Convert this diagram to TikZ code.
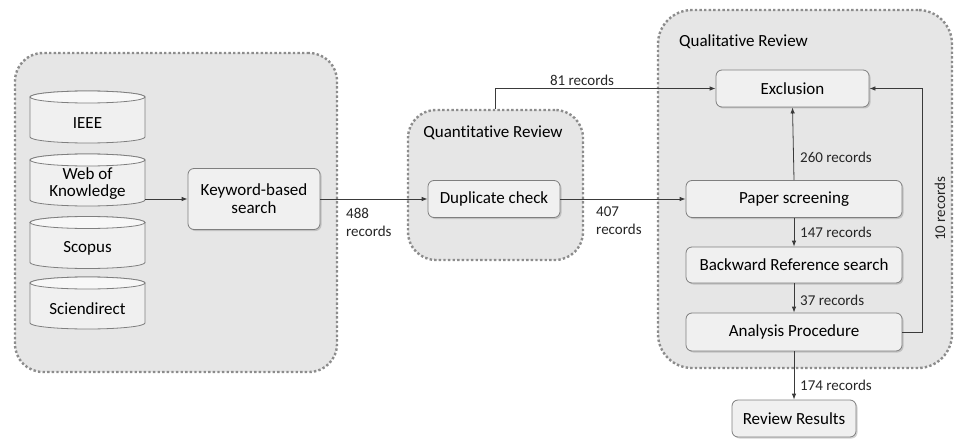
\documentclass[tikz,border=0pt]{standalone}
\usepackage{fontspec}
\setmainfont{Carlito}[Ligatures=NoCommon]
\usetikzlibrary{arrows.meta,shadows}
\definecolor{grpfill}{HTML}{E6E6E6}
\definecolor{grpline}{HTML}{8C8C8C}
\definecolor{boxfill}{HTML}{F0F0F0}
\definecolor{boxline}{HTML}{7F7F7F}
\definecolor{cyltop}{HTML}{F7F7F7}
\definecolor{arrcol}{HTML}{3A3A3A}
\newcommand{\dbcyl}[1]{%
  \filldraw[fill=boxfill, draw=boxline, line width=0.8pt]
    (30,#1-20) -- (30,#1+20) arc[start angle=180, end angle=360, x radius=57.5pt, y radius=6pt]
    -- (145,#1-20) arc[start angle=0, end angle=180, x radius=57.5pt, y radius=6pt] -- cycle;
  \filldraw[fill=cyltop, draw=boxline, line width=0.8pt] (87.5,#1-20) ellipse[x radius=57.5pt, y radius=6pt];
}
\begin{document}
\begin{tikzpicture}[x=1pt,y=-1pt,
  grp/.style={draw=grpline, fill=grpfill, line width=2.4pt, dash pattern=on 2.4pt off 2.2pt, rounded corners=28pt, inner sep=0pt},
  box/.style={draw=boxline, fill=boxfill, line width=0.8pt, rounded corners=6pt, align=center, inner sep=0pt,
    font=\fontsize{17}{19}\selectfont,
    drop shadow={shadow xshift=1.5pt, shadow yshift=-1.5pt, opacity=0.35}},
  dbtext/.style={inner sep=0pt, minimum width=115pt, minimum height=40pt, align=center, font=\fontsize{17}{19}\selectfont},
  ttl/.style={inner sep=0pt, font=\fontsize{17}{19}\selectfont},
  lbl/.style={font=\fontsize{15}{18}\selectfont, text=black!85, inner sep=0pt, align=left},
  conn/.style={draw=arrcol, line width=0.8pt, -{Latex[length=6pt,width=4.5pt]}},
]
\useasboundingbox (0,0) rectangle (957,441);

% groups
\node[grp, minimum width=322pt, minimum height=319pt] (src) at (176,212.5) {};
\node[grp, minimum width=175pt, minimum height=150pt] (quant) at (495.5,185) {};
\node[grp, minimum width=294pt, minimum height=358pt, rounded corners=34pt] (qual) at (805,189) {};

\node[ttl] (quantt) at (493,133) {Quantitative Review};
\node[ttl, anchor=west] (qualt) at (679,42) {Qualitative Review};

% databases
\dbcyl{117}
\dbcyl{180}
\dbcyl{242.5}
\dbcyl{303}
\node[dbtext] (ieee) at (87.5,123) {IEEE};
\node[dbtext] (wok) at (87.5,184) {Web of\\[-2pt]Knowledge};
\node[dbtext] (scopus) at (87.5,248.5) {Scopus};
\node[dbtext] (sd) at (87.5,309) {Sciendirect};

% process boxes
\node[box, minimum width=132pt, minimum height=61pt] (kbs) at (254,199) {Keyword-based\\[-1pt]search};
\node[box, minimum width=132pt, minimum height=37pt] (dc) at (494,199) {Duplicate check};
\node[box, minimum width=153pt, minimum height=37pt] (excl) at (792.5,88.5) {Exclusion};
\node[box, minimum width=216pt, minimum height=37pt] (ps) at (794,199) {Paper screening};
\node[box, minimum width=216pt, minimum height=36pt] (brs) at (794,265) {Backward Reference search};
\node[box, minimum width=216pt, minimum height=38pt] (ap) at (794,332) {Analysis Procedure};
\node[box, minimum width=124pt, minimum height=37pt] (rr) at (794,418.5) {Review Results};

% connectors
\draw[conn] (wok.east |- kbs.west) -- (kbs.west);
\draw[conn] (kbs.east) -- (dc.west);
\draw[conn] (dc.east) -- (ps.west);
\draw[conn] (quant.north) |- (excl.west);
\draw[conn] (ps.north) -- (excl.south);
\draw[conn] (ps.south) -- (brs.north);
\draw[conn] (brs.south) -- (ap.north);
\draw[conn] (ap.south) -- (rr.north);
\draw[conn] (ap.east) -- ++(20,0) coordinate (apr) |- (excl.east);

% labels
\node[lbl, anchor=north west] (l488) at (346,208) {488\\records};
\node[lbl, anchor=north west] (l407) at (596,207) {407\\records};
\node[lbl] (l81) at (582,80) {81 records};
\node[lbl, anchor=west] (l260) at (800,157) {260 records};
\node[lbl, anchor=west] (l147) at (800,232) {147 records};
\node[lbl, anchor=west] (l37) at (800,300) {37 records};
\node[lbl, anchor=west] (l174) at (800,385) {174 records};
\node[lbl, rotate=90] (l10) at (940,209) {10 records};
\end{tikzpicture}
\end{document}
